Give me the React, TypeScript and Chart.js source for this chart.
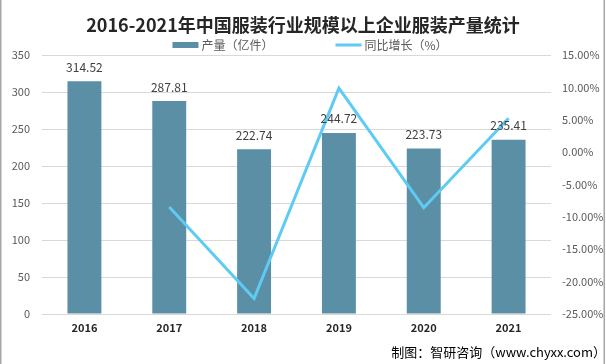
import React, { useEffect, useRef } from "react";
import { Chart, registerables } from "chart.js";

Chart.register(...registerables);

const categories = ["2016", "2017", "2018", "2019", "2020", "2021"];
const output = [314.52, 287.81, 222.74, 244.72, 223.73, 235.41];
const growth = [null, -8.49, -22.61, 9.87, -8.58, 5.22];
const seriesNames = ["产量（亿件）", "同比增长（%）"];
const titleText = "2016-2021年中国服装行业规模以上企业服装产量统计";
const sourceText = "制图：智研咨询（www.chyxx.com）";

const FONT = "'Noto Sans CJK SC', 'Noto Sans', sans-serif";
const BAR_COLOR = "#5B8FA6";
const LINE_COLOR = "#5DCBF3";

const bgPlugin = {
  id: "bg",
  beforeDraw(chart: any) {
    const { ctx, width, height } = chart;
    ctx.save();
    ctx.fillStyle = "#ffffff";
    ctx.fillRect(0, 0, width, height);
    ctx.restore();
  },
  afterDraw(chart: any) {
    const { ctx, width, height } = chart;
    ctx.save();
    ctx.strokeStyle = "#a6a6a6";
    ctx.lineWidth = 1.5;
    ctx.beginPath();
    ctx.moveTo(0.75, 0);
    ctx.lineTo(0.75, height);
    ctx.moveTo(width - 1.75, 0);
    ctx.lineTo(width - 1.75, height);
    ctx.stroke();
    ctx.restore();
  },
};

const legendPlugin = {
  id: "customLegend",
  afterDraw(chart: any) {
    const { ctx } = chart;
    const ds = chart.data.datasets;
    ctx.save();
    ctx.font = `12px ${FONT}`;
    const boxW = 26;
    const gap = 3;
    const itemGap = 62;
    const w1 = ctx.measureText(ds[0].label).width;
    const w2 = ctx.measureText(ds[1].label).width;
    const total = boxW + gap + w1 + itemGap + boxW + gap + w2;
    const cy = 45;
    let x = 310 - total / 2;
    ctx.fillStyle = BAR_COLOR;
    ctx.fillRect(x, cy - 3, boxW, 6);
    x += boxW + gap;
    ctx.fillStyle = "#595959";
    ctx.textBaseline = "middle";
    ctx.textAlign = "left";
    ctx.fillText(ds[0].label, x, cy);
    x += w1 + itemGap;
    ctx.strokeStyle = LINE_COLOR;
    ctx.lineWidth = 3;
    ctx.beginPath();
    ctx.moveTo(x, cy);
    ctx.lineTo(x + boxW, cy);
    ctx.stroke();
    x += boxW + gap;
    ctx.fillText(ds[1].label, x, cy);
    ctx.restore();
  },
};

const labelPlugin = {
  id: "barLabels",
  afterDatasetsDraw(chart: any) {
    const { ctx } = chart;
    const meta = chart.getDatasetMeta(0);
    ctx.save();
    ctx.font = `12px ${FONT}`;
    ctx.fillStyle = "#404040";
    ctx.textAlign = "center";
    ctx.textBaseline = "middle";
    meta.data.forEach((el: any, i: number) => {
      const v = chart.data.datasets[0].data[i];
      ctx.fillText(v.toFixed(2), el.x, el.y - 14);
    });
    ctx.restore();
  },
};

export default function App() {
  const ref = useRef<HTMLCanvasElement | null>(null);
  useEffect(() => {
    document.body.style.margin = "0";
    Chart.defaults.font.family = FONT;
    const chart = new Chart(ref.current as HTMLCanvasElement, {
      type: "bar",
      data: {
        labels: categories,
        datasets: [
          {
            type: "bar",
            label: seriesNames[0],
            data: output,
            backgroundColor: BAR_COLOR,
            borderWidth: 0,
            yAxisID: "y",
            order: 1,
            barPercentage: 0.4,
            categoryPercentage: 1,
          },
          {
            type: "line",
            label: seriesNames[1],
            data: growth as any,
            borderColor: LINE_COLOR,
            backgroundColor: LINE_COLOR,
            borderWidth: 3,
            pointRadius: 0,
            tension: 0,
            yAxisID: "y1",
            order: 0,
          },
        ],
      },
      options: {
        responsive: false,
        animation: false,
        devicePixelRatio: 1,
        layout: { padding: { left: 0, right: 0, top: 0, bottom: 0 } },
        plugins: {
          legend: { display: false },
          tooltip: { enabled: false },
          title: {
            display: true,
            text: titleText,
            color: "#262626",
            font: { size: 18, weight: "bold", family: FONT },
            padding: { top: 14, bottom: 19.4 },
          },
          subtitle: {
            display: true,
            text: sourceText,
            position: "bottom",
            align: "end",
            color: "#000000",
            font: { size: 13, family: FONT },
            padding: { top: 9, bottom: 4.4 },
          },
        },
        scales: {
          x: {
            grid: { display: false, drawTicks: false },
            border: { display: false },
            ticks: {
              color: "#262626",
              font: { size: 11, weight: "bold", family: FONT },
              padding: 7,
            },
            afterFit(scale: any) {
              scale.height = 21;
            },
          },
          y: {
            position: "left",
            min: 0,
            max: 350,
            ticks: { stepSize: 50, color: "#595959", font: { size: 11 }, padding: 12 },
            grid: { color: "#d9d9d9", drawTicks: false },
            border: { display: false },
            afterFit(scale: any) {
              scale.width = 42;
            },
          },
          y1: {
            position: "right",
            min: -25,
            max: 15,
            ticks: {
              stepSize: 5,
              color: "#595959",
              font: { size: 11 },
              padding: 11,
              callback: (v: any) => Number(v).toFixed(2) + "%",
            },
            grid: { display: false, drawTicks: false },
            border: { display: false },
            afterFit(scale: any) {
              scale.width = 55;
            },
          },
        },
      },
      plugins: [bgPlugin, legendPlugin, labelPlugin],
    } as any);
    return () => chart.destroy();
  }, []);
  return (
    <div style={{ width: 606, height: 364 }}>
      <canvas ref={ref} width={606} height={364} />
    </div>
  );
}
